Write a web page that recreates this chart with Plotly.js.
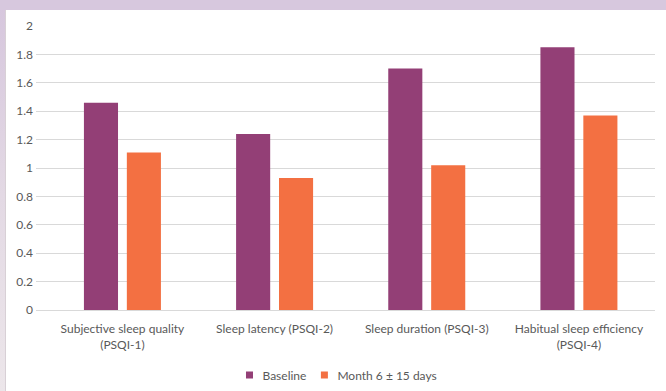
<!DOCTYPE html>
<html>
<head>
<meta charset="utf-8">
<script src="https://cdn.plot.ly/plotly-3.0.1.min.js"></script>
<style>
  html, body { margin: 0; padding: 0; }
  body {
    width: 666px; height: 391px; overflow: hidden; position: relative;
    background: linear-gradient(to bottom, #d6c6dd 0%, #e3d9e4 50%, #ece6ea 100%);
  }
  #frame-top { position: absolute; left: 0; top: 0; width: 666px; height: 10px; background: #d7c8de; }
  #chart { position: absolute; left: 6px; top: 10px; width: 660px; height: 381px; background: #fff;
           box-shadow: -1px 0 0 #d8d0d6; }
</style>
</head>
<body>
<div id="frame-top"></div>
<div id="chart"></div>
<script>
// PSQI component scores, baseline vs. month 6 follow-up
const categories = [
  "Subjective sleep quality<br>(PSQI-1)",
  "Sleep latency (PSQI-2)",
  "Sleep duration (PSQI-3)",
  "Habitual sleep efficiency<br>(PSQI-4)"
];
const baseline = [1.46, 1.24, 1.70, 1.85];
const month6 = [1.11, 0.93, 1.02, 1.37];
const seriesNames = ["Baseline", "Month 6 \u00b1 15 days"];
const yTicks = [0, 0.2, 0.4, 0.6, 0.8, 1, 1.2, 1.4, 1.6, 1.8, 2];

const font = "Lato, 'Open Sans', sans-serif";
const textColor = "#595959";

const traces = [
  {
    type: "bar", name: seriesNames[0], x: categories, y: baseline,
    marker: { color: "#933f76" }, width: 0.224, offset: -0.253,
    hoverinfo: "y"
  },
  {
    type: "bar", name: seriesNames[1], x: categories, y: month6,
    marker: { color: "#f37042" }, width: 0.224, offset: 0.029,
    hoverinfo: "y"
  }
];

const layout = {
  width: 660, height: 381,
  margin: { l: 30, r: 11, t: 16, b: 81 },
  paper_bgcolor: "#ffffff", plot_bgcolor: "#ffffff",
  font: { family: font, size: 12, color: textColor },
  barmode: "group",
  showlegend: true,
  legend: {
    orientation: "h", x: 0.4903, xanchor: "center",
    yref: "container", y: 0.042, yanchor: "middle",
    font: { family: font, size: 12, color: textColor },
    traceorder: "normal"
  },
  xaxis: {
    type: "category", range: [-0.568, 3.5],
    showgrid: false, zeroline: false, showline: false,
    ticks: "", ticklabelstandoff: 10,
    tickfont: { family: font, size: 12, color: textColor },
    fixedrange: true
  },
  yaxis: {
    range: [0, 2], tickvals: yTicks, ticktext: yTicks.map(String),
    showgrid: true, gridcolor: "#d9d9d9", gridwidth: 1,
    zeroline: true, zerolinecolor: "#d9d9d9", zerolinewidth: 1,
    showline: false, ticks: "", ticklabelstandoff: 2,
    tickfont: { family: font, size: 12, color: textColor },
    fixedrange: true
  }
};

Plotly.newPlot("chart", traces, layout, { displayModeBar: false, staticPlot: true }).then(gd => {
  // smaller square legend swatches, set close to their labels
  gd.querySelectorAll(".legend .legendpoints path").forEach(p => {
    p.setAttribute("d", "M3.5,3.5H-3.5V-3.5H3.5Z");
    p.setAttribute("transform", "translate(27,0)");
  });
  // tighter spacing between the two legend entries
  const items = gd.querySelectorAll(".legend .traces");
  if (items.length > 1) {
    const t = items[1].getAttribute("transform") || "";
    const m = t.match(/translate\(\s*([-\d.]+)[ ,]+([-\d.]+)\s*\)/);
    if (m) items[1].setAttribute("transform", `translate(${parseFloat(m[1]) - 14},${m[2]})`);
  }
});
</script>
</body>
</html>
